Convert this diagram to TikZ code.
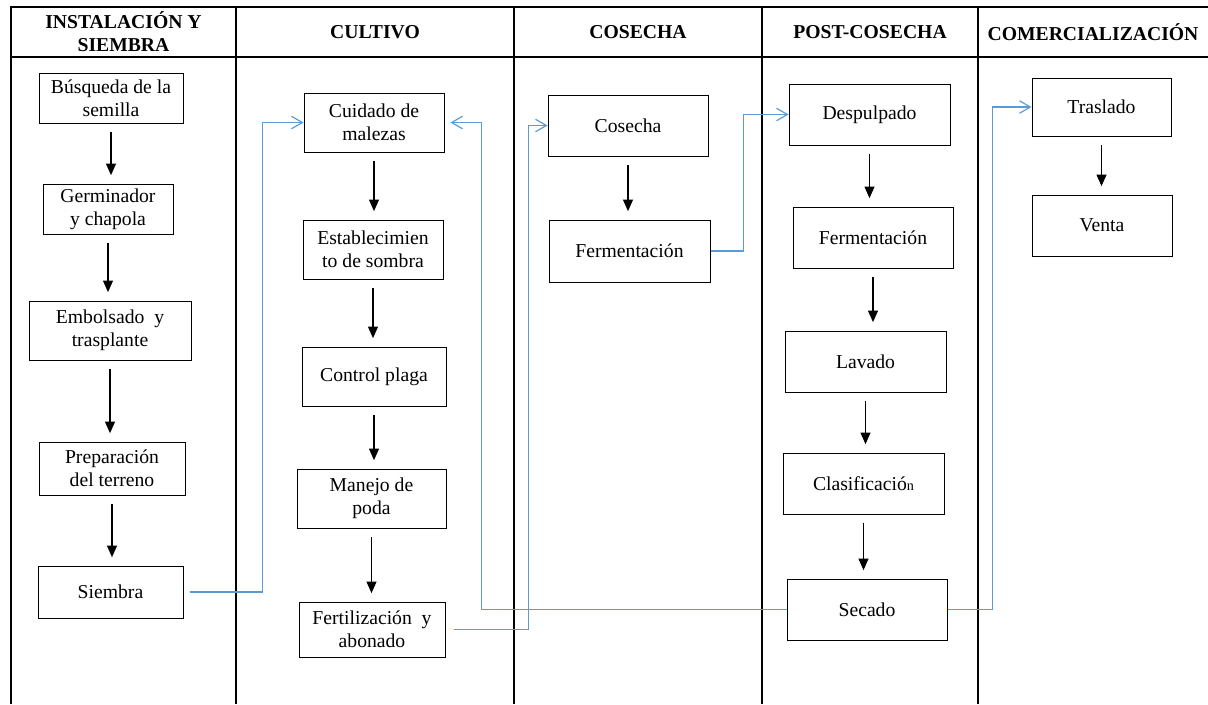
\documentclass[tikz,border=0pt]{standalone}
\usepackage{fontspec}
\setmainfont{Liberation Serif}
\usetikzlibrary{arrows.meta}
\definecolor{linkblue}{RGB}{91,155,213}

\begin{document}
\begin{tikzpicture}[
    x=0.6pt, y=-0.6pt,
    box/.style={rectangle, draw, line width=0.6pt, inner sep=1pt, align=center, font=\fontsize{11.8}{13.8}\selectfont},
    title/.style={align=center, font=\fontsize{11.8}{13.8}\selectfont\bfseries},
    frame/.style={line width=1.2pt},
    arrow/.style={-{Triangle[length=7pt,width=6pt]}, line width=0.8pt, shorten <=5pt, shorten >=5pt},
    link/.style={-{Straight Barb[length=6.5pt,width=7.5pt]}, linkblue, line width=0.7pt}
]
\useasboundingbox (0,0) rectangle (1208,704);

% Table frame
\draw[frame] (11,704) -- (11,7) -- (1208,7);
\draw[frame] (11,57) -- (1208,57);
\draw[frame] (236,7) -- (236,704);
\draw[frame] (514,7) -- (514,704);
\draw[frame] (762,7) -- (762,704);
\draw[frame] (978,7) -- (978,704);

% Column titles
\node[title] (t1) at (123.5,32) {INSTALACIÓN Y\\SIEMBRA};
\node[title] (t2) at (375,32) {CULTIVO};
\node[title] (t3) at (638,32) {COSECHA};
\node[title] (t4) at (870,32) {POST-COSECHA};
\node[title] (t5) at (1093,32) {COMERCIALIZACIÓN};

% Instalación y siembra
\node[box, minimum width=86.4pt, minimum height=30pt] (busqueda) at (111,98) {Búsqueda de la\\semilla};
\node[box, minimum width=78pt, minimum height=30pt] (germinador) at (108,209) {Germinador\\y chapola};
\node[box, minimum width=97.2pt, minimum height=35.4pt] (embolsado) at (110,330.5) {Embolsado\enspace y\\trasplante};
\node[box, minimum width=87.6pt, minimum height=31.8pt] (preparacion) at (112,468.5) {Preparación\\del terreno};
\node[box, minimum width=87pt, minimum height=31.2pt] (siembra) at (110.5,592) {Siembra};

% Cultivo
\node[box, minimum width=84pt, minimum height=35.4pt] (cuidado) at (374,122.5) {Cuidado de\\malezas};
\node[box, minimum width=84pt, minimum height=35.4pt] (sombra) at (373,249.5) {Establecimien\\to de sombra};
\node[box, minimum width=86.4pt, minimum height=35.4pt] (plaga) at (374,376.5) {Control plaga};
\node[box, minimum width=89.4pt, minimum height=35.4pt] (poda) at (371.5,498.5) {Manejo de\\poda};
\node[box, minimum width=87.6pt, minimum height=33pt] (fertilizacion) at (372,629.5) {Fertilización\enspace y\\abonado};

% Cosecha
\node[box, minimum width=96pt, minimum height=36.6pt] (cosecha) at (628,125.5) {Cosecha};
\node[box, minimum width=96.6pt, minimum height=37.2pt] (fermA) at (629.5,251) {Fermentación};

% Post-cosecha
\node[box, minimum width=96.6pt, minimum height=36.6pt] (despulpado) at (869.5,114.5) {Despulpado};
\node[box, minimum width=96pt, minimum height=36.6pt] (fermB) at (873,237.5) {Fermentación};
\node[box, minimum width=96.6pt, minimum height=36.6pt] (lavado) at (865.5,361.5) {Lavado};
\node[box, minimum width=96.6pt, minimum height=36.6pt] (clasificacion) at (863.5,483.5) {Clasificació{\fontsize{8.5}{10}\selectfont n}};
\node[box, minimum width=96pt, minimum height=36.6pt] (secado) at (867,609.5) {Secado};

% Comercialización
\node[box, minimum width=83.4pt, minimum height=34.8pt] (traslado) at (1101.5,107) {Traslado};
\node[box, minimum width=84pt, minimum height=36.6pt] (venta) at (1102,225.5) {Venta};

% Steps inside each column
\draw[arrow] (busqueda.south) -- (busqueda.south |- germinador.north);
\draw[arrow] (germinador.south) -- (germinador.south |- embolsado.north);
\draw[arrow] (embolsado.south) -- (embolsado.south |- preparacion.north);
\draw[arrow] (preparacion.south) -- (preparacion.south |- siembra.north);

\draw[arrow] (cuidado.south) -- (cuidado.south |- sombra.north);
\draw[arrow] (sombra.south) -- (sombra.south |- plaga.north);
\draw[arrow] (plaga.south) -- (plaga.south |- poda.north);
\draw[arrow] (poda.south) -- (poda.south |- fertilizacion.north);

\draw[arrow] (cosecha.south) -- (cosecha.south |- fermA.north);

\draw[arrow] (despulpado.south) -- (despulpado.south |- fermB.north);
\draw[arrow] (fermB.south) -- (fermB.south |- lavado.north);
\draw[arrow] (lavado.south) -- (lavado.south |- clasificacion.north);
\draw[arrow] (clasificacion.south) -- (clasificacion.south |- secado.north);

\draw[arrow] (traslado.south) -- (traslado.south |- venta.north);

% Links between columns
\draw[link, shorten <=3.6pt] (siembra.east) -- ++(79,0) |- (cuidado.west);
\draw[link, shorten >=3.6pt] (secado.west) -- ++(-305,0) |- (cuidado.east);
\draw[link, shorten <=4.8pt] (fertilizacion.east) -- ++(83,0) |- (cosecha.west);
\draw[link] (fermA.east) -- ++(33,0) |- (despulpado.west);
\draw[link] (secado.east) -- ++(45,0) |- (traslado.west);

\end{tikzpicture}
\end{document}
